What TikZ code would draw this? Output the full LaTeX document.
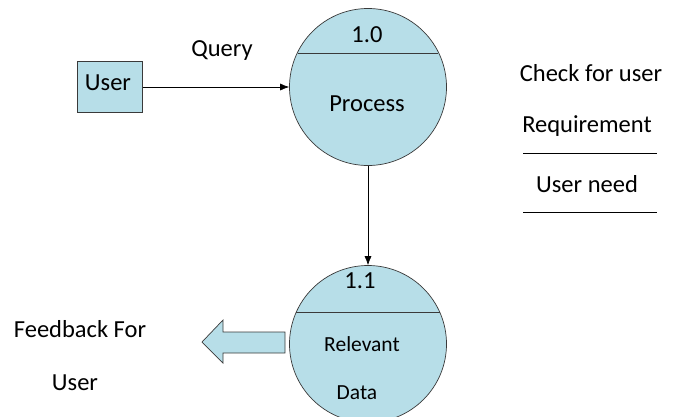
\documentclass[tikz,border=0pt]{standalone}
\usepackage{fontspec}
\setmainfont{Carlito}
\usetikzlibrary{arrows.meta}
\definecolor{procfill}{HTML}{B7DEE8}
\definecolor{edge}{HTML}{3A3A3A}
\begin{document}
\begin{tikzpicture}[x=1pt,y=-1pt,
  lbl/.style={font=\fontsize{24.5}{29}\selectfont,inner sep=0pt,anchor=base},
  small/.style={font=\fontsize{21.5}{26}\selectfont},
  proc/.style={circle,draw=edge,fill=procfill,minimum size=157pt,inner sep=0pt,line width=0.7pt},
  flow/.style={draw=black,line width=0.6pt,-{Latex[length=9pt,width=7pt]}},
  rule/.style={draw=black,line width=0.7pt}]
\useasboundingbox (0,0) rectangle (678,416);
% external entity
\node[draw=edge,fill=procfill,line width=0.7pt,minimum width=65pt,minimum height=51pt,inner sep=0pt] (user) at (110,87) {};
\node[lbl] at (108,90) {User};
% processes
\node[proc] (p1) at (368,87) {};
\draw[edge,line width=0.7pt] (p1.center) ++(-70,-34) -- ++(140,0);
\node[lbl] at (367,42) {1.0};
\node[lbl] at (367,111) {Process};
\node[proc] (p2) at (368,344) {};
\draw[edge,line width=0.7pt] (p2.center) ++(-72,-32) -- ++(144,0);
\node[lbl] at (360,288) {1.1};
\node[lbl,small] at (362,351) {Relevant};
\node[lbl,small] at (357,399) {Data};
% data flows
\draw[flow] (user.east) -- (p1.west);
\node[lbl] at (222,56) {Query};
\draw[flow] (p1.south) -- (p2.north);
% feedback block arrow
\coordinate (fbtip) at (202,342);
\draw[edge,fill=procfill,line width=0.7pt] (fbtip) -- ++(21,-22) -- ++(0,12) -- ++(62,0)
  -- ++(0,21) -- ++(-62,0) -- ++(0,10) -- cycle;
\node[lbl] at (80,337) {Feedback For};
\node[lbl] at (75,390) {User};
% requirement note
\node[lbl] (n1) at (591,81) {Check for user};
\node[lbl] (n2) at (587,132) {Requirement};
\coordinate (r1a) at (523,153);
\coordinate (r1b) at (657,153);
\draw[rule] (r1a) -- (r1b);
\node[lbl] (n3) at (587,192) {User need};
\coordinate (r2a) at (523,212);
\coordinate (r2b) at (657,212);
\draw[rule] (r2a) -- (r2b);
\end{tikzpicture}
\end{document}
